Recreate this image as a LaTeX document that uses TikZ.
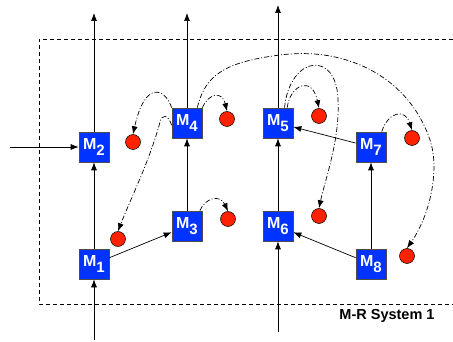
\documentclass[tikz,border=0pt]{standalone}
\usepackage{fontspec}
\setmainfont{Liberation Sans}
\usetikzlibrary{arrows.meta}
\definecolor{mblue}{RGB}{0,51,255}
\definecolor{rdred}{RGB}{255,34,0}
\newcommand{\mname}[1]{M\raisebox{-6pt}{\fontsize{15}{15}\selectfont #1}}
\begin{document}
\begin{tikzpicture}[x=1pt,y=-1pt,line width=0.7pt,
    >={Latex[length=8pt,width=6pt]},
    mbox/.style={draw=black!70,fill=mblue,minimum size=30pt,inner sep=0pt,
      text=white,font=\fontsize{16}{16}\selectfont\bfseries},
    rdot/.style={circle,draw,line width=0.5pt,fill=rdred,minimum size=15pt,inner sep=0pt},
    dd/.style={->,dash pattern=on 5pt off 2pt on 1pt off 2pt}]
  \useasboundingbox (0,0) rectangle (453,342);
  \draw[line width=0.6pt,dash pattern=on 4pt off 3pt] (453,39) -- (39,39) -- (39,304) -- (453,304);
  \node[font=\fontsize{14.5}{14.5}\selectfont\bfseries] (sys) at (387,316) {M-R System 1};

  \node[mbox] (m1) at (94,264) {\mname{1}};
  \node[mbox] (m2) at (94,147) {\mname{2}};
  \node[mbox] (m3) at (187,226) {\mname{3}};
  \node[mbox] (m4) at (187,123) {\mname{4}};
  \node[mbox] (m5) at (278,123) {\mname{5}};
  \node[mbox] (m6) at (278,226) {\mname{6}};
  \node[mbox] (m7) at (371,147) {\mname{7}};
  \node[mbox] (m8) at (371,264) {\mname{8}};

  \node[rdot] (r1) at (118,239) {};
  \node[rdot] (r2) at (133,142) {};
  \node[rdot] (r3) at (228,219) {};
  \node[rdot] (r4) at (227,119) {};
  \node[rdot] (r5) at (319,116) {};
  \node[rdot] (r6) at (319,216) {};
  \node[rdot] (r7) at (412,138) {};
  \node[rdot] (r8) at (407,256) {};

  % inputs and outputs
  \coordinate (in1) at (94,340);
  \coordinate (in2) at (10,147);
  \coordinate (in6) at (278,332);
  \coordinate (out2) at (94,13);
  \coordinate (out4) at (187,13);
  \coordinate (out5) at (278,5);
  \draw[->] (in1) -- (m1);
  \draw[->] (in2) -- (m2);
  \draw[->] (in6) -- (m6);
  \draw[->] (m2) -- (out2);
  \draw[->] (m4) -- (out4);
  \draw[->] (m5) -- (out5);

  \draw[->] (m1) -- (m2);
  \draw[->] (m1) -- (m3);
  \draw[->] (m3) -- (m4);
  \draw[->] (m6) -- (m5);
  \draw[->] (m7) -- (m5);
  \draw[->] (m8) -- (m6);
  \draw[->] (m8) -- (m7);

  % dash-dot links
  \draw[dd] (m4.north west) .. controls (165,88) and (145,80) .. (r2.north);
  \draw[dd] (m4.188) .. controls (168,114) and (162,114) .. (160,122)
    .. controls (150,160) and (130,200) .. (r1.north);
  \draw[dd] (m4.north east) .. controls (208,94) and (222,90) .. (r4.north);
  \draw[dd] (m4.56) .. controls (205,75) and (225,62) .. (280,55)
    .. controls (350,46) and (410,80) .. (430,140)
    .. controls (440,170) and (430,215) .. (r8.north);
  \draw[dd] (m3.50) .. controls (205,198) and (220,194) .. (r3.north);
  \draw[dd] (m5.59) .. controls (290,85) and (312,75) .. (r5.north);
  \draw[dd] (m5.67) .. controls (290,55) and (337,50) .. (338,100)
    .. controls (340,140) and (325,180) .. (r6.north);
  \draw[dd] (m7.55) .. controls (388,112) and (405,108) .. (r7.north);
\end{tikzpicture}
\end{document}
